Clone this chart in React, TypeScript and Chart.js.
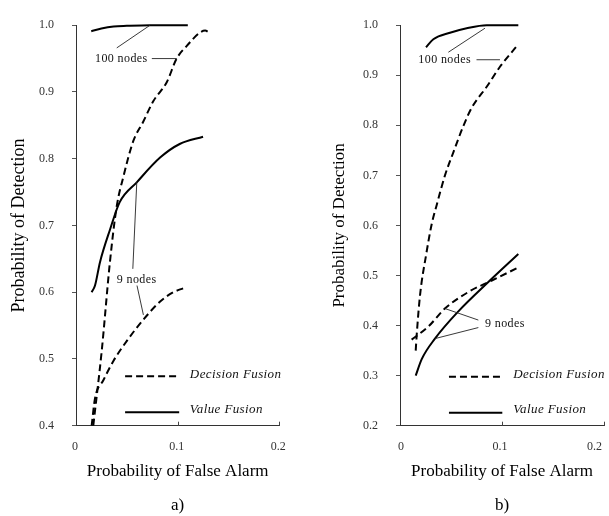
import React, { useEffect, useRef } from "react";
import { Chart, registerables } from "chart.js";
Chart.register(...registerables);

const SERIF = "'Liberation Serif', 'Times New Roman', Times, serif";

// ---------- Panel a) ----------
const a100ValueX = [0.015, 0.025, 0.037, 0.05, 0.073, 0.09, 0.11];
const a100ValueY = [0.991, 0.995, 0.998, 0.999, 1.0, 1.0, 1.0];
const a100DecisionX = [0.017, 0.0253, 0.0335, 0.04, 0.0466, 0.0565, 0.066, 0.076, 0.0894, 0.099, 0.109, 0.122, 0.127, 0.131];
const a100DecisionY = [0.4, 0.512, 0.647, 0.728, 0.773, 0.827, 0.855, 0.886, 0.915, 0.95, 0.969, 0.989, 0.992, 0.989];
const a9ValueX = [0.0154, 0.0187, 0.0236, 0.0335, 0.043, 0.06, 0.083, 0.102, 0.125];
const a9ValueY = [0.6, 0.61, 0.645, 0.694, 0.735, 0.765, 0.802, 0.822, 0.833];
const a9DecisionX = [0.0154, 0.0187, 0.0269, 0.0368, 0.05, 0.0663, 0.0828, 0.0959, 0.1057];
const a9DecisionY = [0.4, 0.441, 0.468, 0.497, 0.527, 0.559, 0.586, 0.6, 0.606];

// ---------- Panel b) ----------
const b100ValueX = [0.0255, 0.0327, 0.049, 0.0654, 0.085, 0.116];
const b100ValueY = [0.956, 0.972, 0.985, 0.994, 1.0, 1.0];
const b100DecisionX = [0.0154, 0.0164, 0.0196, 0.026, 0.031, 0.036, 0.0441, 0.0523, 0.062, 0.0703, 0.085, 0.098, 0.114];
const b100DecisionY = [0.35, 0.382, 0.46, 0.546, 0.602, 0.641, 0.7, 0.746, 0.798, 0.835, 0.877, 0.917, 0.957];
const b9ValueX = [0.0154, 0.0213, 0.0343, 0.057, 0.0866, 0.116];
const b9ValueY = [0.3, 0.333, 0.374, 0.428, 0.487, 0.543];
const b9DecisionX = [0.0114, 0.0278, 0.044, 0.067, 0.09, 0.116];
const b9DecisionY = [0.372, 0.398, 0.434, 0.467, 0.49, 0.516];

const xTickValues = [0, 0.1, 0.2];
const legendLabels = ["Decision Fusion", "Value Fusion"];

type Seg = [number, number, number, number];
type Txt = { x: number; y: number; text: string; italic?: boolean; size: number };
type Annot = { leaders: Seg[]; samples: { seg: Seg; dashed: boolean }[]; texts: Txt[] };

const annotA: Annot = {
  leaders: [
    [0.0401, 0.966, 0.0729, 1.0],
    [0.0746, 0.95, 0.0992, 0.95],
    [0.0598, 0.765, 0.0559, 0.635],
    [0.0600, 0.61, 0.0663, 0.566],
  ],
  samples: [
    { seg: [0.0483, 0.474, 0.1015, 0.474], dashed: true },
    { seg: [0.0483, 0.42, 0.1015, 0.42], dashed: false },
  ],
  texts: [
    { x: 0.0187, y: 0.949, text: "100 nodes", size: 12 },
    { x: 0.0401, y: 0.618, text: "9 nodes", size: 12 },
    { x: 0.112, y: 0.4767, text: legendLabels[0], italic: true, size: 13 },
    { x: 0.112, y: 0.4236, text: legendLabels[1], italic: true, size: 13 },
  ],
};

const annotB: Annot = {
  leaders: [
    [0.0474, 0.946, 0.0833, 0.994],
    [0.075, 0.931, 0.098, 0.931],
    [0.0768, 0.411, 0.0441, 0.434],
    [0.0768, 0.396, 0.0343, 0.374],
  ],
  samples: [
    { seg: [0.048, 0.298, 0.1003, 0.298], dashed: true },
    { seg: [0.048, 0.226, 0.1003, 0.226], dashed: false },
  ],
  texts: [
    { x: 0.018, y: 0.931, text: "100 nodes", size: 12 },
    { x: 0.0833, y: 0.403, text: "9 nodes", size: 12 },
    { x: 0.111, y: 0.302, text: legendLabels[0], italic: true, size: 13 },
    { x: 0.111, y: 0.232, text: legendLabels[1], italic: true, size: 13 },
  ],
};

const DASH = [7, 4];

const zip = (xs: number[], ys: number[]) => xs.map((x, i) => ({ x, y: ys[i] }));

function makeAnnotPlugin(cfg: Annot) {
  return {
    id: "annot",
    afterDatasetsDraw(chart: any) {
      const { ctx, chartArea } = chart;
      const sx = chart.scales.x;
      const sy = chart.scales.y;
      ctx.save();
      // inward x tick marks
      ctx.strokeStyle = "#444";
      ctx.lineWidth = 1;
      for (const t of xTickValues) {
        if (t === 0) continue;
        const px = Math.round(sx.getPixelForValue(t)) + 0.5;
        ctx.beginPath();
        ctx.moveTo(px, chartArea.bottom);
        ctx.lineTo(px, chartArea.bottom - 4);
        ctx.stroke();
      }
      // leader lines
      ctx.strokeStyle = "#222";
      ctx.lineWidth = 0.9;
      for (const [x1, y1, x2, y2] of cfg.leaders) {
        ctx.beginPath();
        ctx.moveTo(sx.getPixelForValue(x1), sy.getPixelForValue(y1));
        ctx.lineTo(sx.getPixelForValue(x2), sy.getPixelForValue(y2));
        ctx.stroke();
      }
      // legend samples
      ctx.strokeStyle = "#000";
      ctx.lineWidth = 2;
      for (const s of cfg.samples) {
        const [x1, y1, x2, y2] = s.seg;
        ctx.setLineDash(s.dashed ? DASH : []);
        ctx.beginPath();
        ctx.moveTo(sx.getPixelForValue(x1), sy.getPixelForValue(y1));
        ctx.lineTo(sx.getPixelForValue(x2), sy.getPixelForValue(y2));
        ctx.stroke();
      }
      ctx.setLineDash([]);
      // texts
      ctx.fillStyle = "#111";
      ctx.textAlign = "left";
      ctx.textBaseline = "middle";
      for (const t of cfg.texts) {
        ctx.font = `${t.italic ? "italic " : ""}${t.size}px ${SERIF}`;
        try { (ctx as any).letterSpacing = "0.4px"; } catch (e) {}
        ctx.fillText(t.text, sx.getPixelForValue(t.x), sy.getPixelForValue(t.y));
      }
      ctx.restore();
    },
  };
}

type PanelProps = {
  series: { pts: { x: number; y: number }[]; dashed: boolean }[];
  yMin: number;
  yMax: number;
  annot: Annot;
  caption: string;
  width: number;
  yAxisWidth: number;
  rightPad: number;
  yTitlePad: number;
  yTitleSize: number;
  xAlign: "center" | "inner";
  xLabelOffset: number;
};

function Panel(p: PanelProps) {
  const ref = useRef<HTMLCanvasElement | null>(null);
  useEffect(() => {
    if (!ref.current) return;
    const chart = new Chart(ref.current, {
      type: "line",
      data: {
        datasets: p.series.map((s) => ({
          data: s.pts,
          borderColor: "#000",
          borderWidth: 2,
          borderDash: s.dashed ? DASH : [],
          pointRadius: 0,
          fill: false,
          cubicInterpolationMode: "monotone" as const,
          clip: false as any,
        })),
      },
      options: {
        responsive: false,
        animation: false,
        layout: { padding: { top: 19.3, right: p.rightPad, left: 0, bottom: 0 } },
        plugins: { legend: { display: false }, tooltip: { enabled: false } },
        scales: {
          x: {
            type: "linear",
            min: 0,
            max: 0.2,
            ticks: {
              stepSize: 0.1,
              callback: (v: any) => (Number(v) === 0 ? "0" : Number(v).toFixed(1)),
              font: { family: SERIF, size: 12 },
              color: "#333",
              padding: 14,
              maxRotation: 0,
              align: p.xAlign,
              labelOffset: p.xLabelOffset,
            },
            grid: { display: false, drawTicks: false },
            border: { display: true, color: "#333", width: 1 },
            title: {
              display: true,
              text: ["Probability of False Alarm", "", p.caption],
              font: { family: SERIF, size: 17, lineHeight: 1.02 },
              color: "#000",
              padding: { top: 0, bottom: 1.4 },
            },
            afterFit: (s: any) => {
              s.height = 90.3;
              s.paddingLeft = 0;
              s.paddingRight = 0;
            },
          },
          y: {
            type: "linear",
            min: p.yMin,
            max: p.yMax,
            ticks: {
              stepSize: 0.1,
              callback: (v: any) => Number(v).toFixed(1),
              font: { family: SERIF, size: 12 },
              color: "#333",
              padding: 18,
            },
            grid: { drawOnChartArea: false, drawTicks: true, tickLength: 4, tickColor: "#555" },
            border: { display: true, color: "#333", width: 1 },
            title: {
              display: true,
              text: "Probability of Detection",
              font: { family: SERIF, size: p.yTitleSize, lineHeight: 1.2 },
              color: "#000",
              padding: { top: p.yTitlePad, bottom: 0 },
            },
            afterFit: (s: any) => {
              s.width = p.yAxisWidth;
            },
          },
        },
      },
      plugins: [makeAnnotPlugin(p.annot)],
    } as any);
    return () => chart.destroy();
  }, []);
  return <canvas ref={ref} width={p.width} height={516} style={{ display: "block", width: p.width, height: 516 }} />;
}

export default function App() {
  return (
    <div style={{ position: "fixed", left: 0, top: 0, width: 609, height: 516, background: "#fff", overflow: "hidden" }}>
      <div style={{ position: "absolute", left: 0, top: 0 }}>
        <Panel
          series={[
            { pts: zip(a100ValueX, a100ValueY), dashed: false },
            { pts: zip(a100DecisionX, a100DecisionY), dashed: true },
            { pts: zip(a9ValueX, a9ValueY), dashed: false },
            { pts: zip(a9DecisionX, a9DecisionY), dashed: true },
          ]}
          yMin={0.4}
          yMax={1.0}
          annot={annotA}
          caption="a)"
          width={305}
          yAxisWidth={76}
          rightPad={25.7}
          yTitlePad={8.5}
          yTitleSize={18}
          xAlign="center"
          xLabelOffset={-1}
        />
      </div>
      <div style={{ position: "absolute", left: 305, top: 0 }}>
        <Panel
          series={[
            { pts: zip(b100ValueX, b100ValueY), dashed: false },
            { pts: zip(b100DecisionX, b100DecisionY), dashed: true },
            { pts: zip(b9ValueX, b9ValueY), dashed: false },
            { pts: zip(b9DecisionX, b9DecisionY), dashed: true },
          ]}
          yMin={0.2}
          yMax={1.0}
          annot={annotB}
          caption="b)"
          width={304}
          yAxisWidth={95}
          rightPad={5}
          yTitlePad={24.8}
          yTitleSize={17}
          xAlign="inner"
          xLabelOffset={-2}
        />
      </div>
    </div>
  );
}
